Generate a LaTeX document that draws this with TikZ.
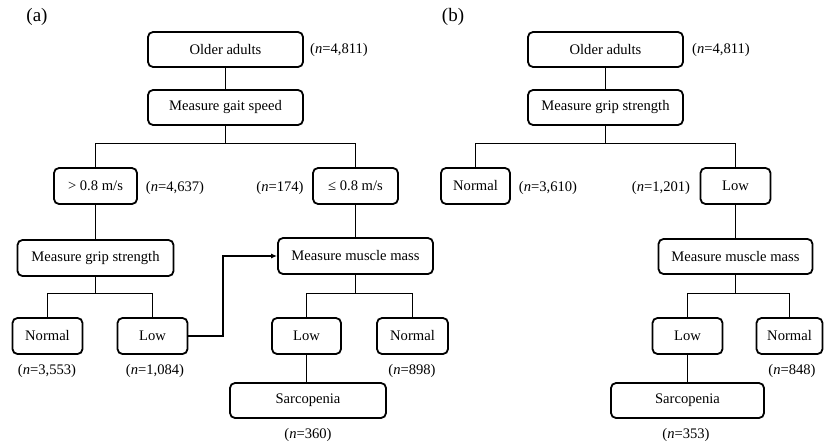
\documentclass[tikz,border=0pt]{standalone}
\usepackage{fontspec}
\setmainfont{Liberation Serif}
\usetikzlibrary{arrows.meta}
\begin{document}
\begin{tikzpicture}[x=1pt,y=-1pt,
  box/.style={draw, rounded corners=5pt, line width=1.8pt, inner sep=0pt, font=\fontsize{14.6}{17}\selectfont},
  nlab/.style={inner sep=0pt, font=\fontsize{14.6}{17}\selectfont},
  panel/.style={inner sep=0pt, font=\fontsize{19}{22}\selectfont},
  conn/.style={line width=1.9pt},
  arr/.style={line width=1.9pt, -{Latex[length=6pt,width=5pt]}}]
\useasboundingbox (0,0) rectangle (824,444);
% ---------- (a) ----------
\node[panel] (pa) at (37,17) {(a)};
\node[box, minimum width=155pt, minimum height=35pt] (a_old) at (225.5,49.5) {Older adults};
\node[box, minimum width=155pt, minimum height=35pt] (a_gait) at (225.5,107.5) {Measure gait speed};
\node[box, minimum width=83pt, minimum height=36pt] (a_fast) at (95.5,186) {> 0.8 m/s};
\node[box, minimum width=85pt, minimum height=36pt] (a_slow) at (355.5,186) {≤ 0.8 m/s};
\node[box, minimum width=156pt, minimum height=36pt] (a_grip) at (95.5,258) {Measure grip strength};
\node[box, minimum width=155pt, minimum height=36pt] (a_mm) at (355.5,256) {Measure muscle mass};
\node[box, minimum width=70pt, minimum height=36pt] (a_gn) at (47.5,336) {Normal};
\node[box, minimum width=70pt, minimum height=36pt] (a_gl) at (152.5,336) {Low};
\node[box, minimum width=69pt, minimum height=36pt] (a_ml) at (306.5,336) {Low};
\node[box, minimum width=71pt, minimum height=36pt] (a_mn) at (412.5,336) {Normal};
\node[box, minimum width=156pt, minimum height=35pt] (a_sar) at (308,400.5) {Sarcopenia};
\node[nlab] (a_n1) at (339,50) {(\textit{n}=4,811)};
\node[nlab] (a_n2) at (175,188) {(\textit{n}=4,637)};
\node[nlab] (a_n3) at (280,188) {(\textit{n}=174)};
\node[nlab] (a_n4) at (47,371) {(\textit{n}=3,553)};
\node[nlab] (a_n5) at (155,371) {(\textit{n}=1,084)};
\node[nlab] (a_n6) at (412,371) {(\textit{n}=898)};
\node[nlab] (a_n7) at (308,435) {(\textit{n}=360)};
\coordinate (a_br1) at (225.5,143.5);
\coordinate (a_br2) at (95.5,293.5);
\coordinate (a_br3) at (355.5,293.5);
\draw[conn] (a_old) -- (a_gait);
\draw[conn] (a_gait.south) -- (a_br1);
\draw[conn] (a_fast.north) |- (a_br1) -| (a_slow.north);
\draw[conn] (a_fast) -- (a_grip);
\draw[conn] (a_slow) -- (a_mm);
\draw[conn] (a_grip.south) -- (a_br2);
\draw[conn] (a_gn.north) |- (a_br2) -| (a_gl.north);
\draw[conn] (a_mm.south) -- (a_br3);
\draw[conn] (a_ml.north) |- (a_br3) -| (a_mn.north);
\draw[conn] (a_ml.south) -- (a_ml.south |- a_sar.north);
\draw[arr] (a_gl.east) -- ++(35,0) |- (a_mm.west);
% ---------- (b) ----------
\node[panel] (pb) at (453,17) {(b)};
\node[box, minimum width=155pt, minimum height=35pt] (b_old) at (605.5,49.5) {Older adults};
\node[box, minimum width=155pt, minimum height=35pt] (b_grip) at (605.5,107.5) {Measure grip strength};
\node[box, minimum width=69pt, minimum height=36pt] (b_n) at (475.5,186) {Normal};
\node[box, minimum width=70pt, minimum height=36pt] (b_l) at (735.5,186) {Low};
\node[box, minimum width=154pt, minimum height=35pt] (b_mm) at (735.5,256.5) {Measure muscle mass};
\node[box, minimum width=70pt, minimum height=36pt] (b_ml) at (687.5,336) {Low};
\node[box, minimum width=66pt, minimum height=36pt] (b_mn) at (789.5,336) {Normal};
\node[box, minimum width=153pt, minimum height=35pt] (b_sar) at (687.5,400.5) {Sarcopenia};
\node[nlab] (b_n1) at (721,50) {(\textit{n}=4,811)};
\node[nlab] (b_n2) at (548,188) {(\textit{n}=3,610)};
\node[nlab] (b_n3) at (661,188) {(\textit{n}=1,201)};
\node[nlab] (b_n4) at (792,371) {(\textit{n}=848)};
\node[nlab] (b_n5) at (686,435) {(\textit{n}=353)};
\coordinate (b_br1) at (605.5,143.5);
\coordinate (b_br2) at (735.5,293.5);
\draw[conn] (b_old) -- (b_grip);
\draw[conn] (b_grip.south) -- (b_br1);
\draw[conn] (b_n.north) |- (b_br1) -| (b_l.north);
\draw[conn] (b_l) -- (b_mm);
\draw[conn] (b_mm.south) -- (b_br2);
\draw[conn] (b_ml.north) |- (b_br2) -| (b_mn.north);
\draw[conn] (b_ml.south) -- (b_ml.south |- b_sar.north);
\end{tikzpicture}
\end{document}
